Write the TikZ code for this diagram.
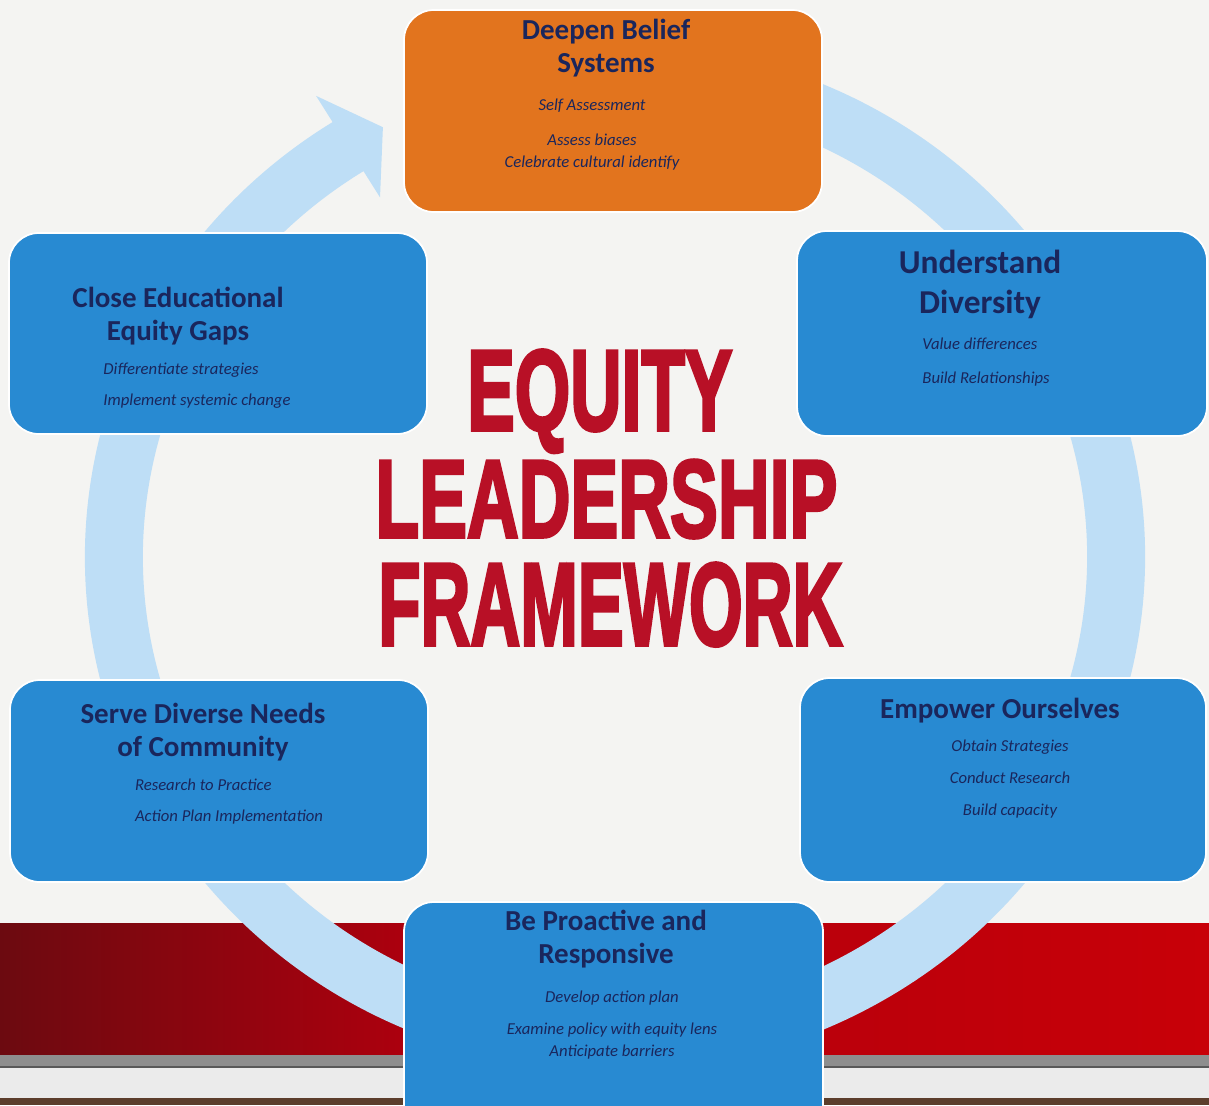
\documentclass[tikz,border=0pt]{standalone}
\usepackage{fontspec}
\usepackage{graphicx}
\setmainfont{Carlito}
\newfontfamily\heavyfont{Liberation Sans}[UprightFeatures={FakeBold=3.2}, BoldFeatures={FakeBold=3.2}]
\usetikzlibrary{positioning}

\definecolor{paper}{RGB}{244,244,242}
\definecolor{cardblue}{RGB}{40,138,210}
\definecolor{cardorange}{RGB}{226,116,30}
\definecolor{ink}{RGB}{26,38,92}
\definecolor{ringblue}{RGB}{190,222,246}
\definecolor{titlered}{RGB}{184,16,38}
\definecolor{banddark}{RGB}{108,10,16}
\definecolor{bandmid}{RGB}{172,0,14}
\definecolor{bandred}{RGB}{200,0,8}
\definecolor{stripe}{RGB}{142,142,142}
\definecolor{soil}{RGB}{92,62,44}

\tikzset{
  card/.style 2 args={draw=white, line width=1pt, fill=cardblue, rounded corners=17pt,
    minimum width=#1*0.02cm, minimum height=#2*0.02cm, inner sep=0pt},
  head/.style={text=ink, align=center, inner sep=0pt, font=\bfseries\fontsize{16.5}{18.7}\selectfont},
  item/.style={text=ink, align=center, inner sep=0pt, font=\itshape\fontsize{9.5}{12.5}\selectfont},
  big/.style={text=titlered, anchor=base west, inner sep=0pt, font=\heavyfont\bfseries},
}

\begin{document}
\begin{tikzpicture}[x=0.02cm, y=-0.02cm]
    \useasboundingbox (0,0) rectangle (1209,1105);
    \clip (0,0) rectangle (1209,1105);
    \fill[paper] (0,0) rectangle (1209,1105);

    % red band at the bottom
    \shade[left color=banddark, right color=bandmid] (0,923) rectangle (404,1055);
    \shade[left color=bandmid, right color=bandred] (404,923) rectangle (1209,1055);
    \fill[stripe] (0,1055) rectangle (1209,1068);
    \fill[black!65] (0,1066) rectangle (1209,1068);
    \fill[white!92!black] (0,1068) rectangle (1209,1098);
    \fill[soil] (0,1098) rectangle (1209,1105);

    % cycle ring with its arrow head
    \coordinate (hub) at (615,557);
    \draw[ringblue, line width=1.16cm] (hub) ++(-75:501 and 485)
        arc[start angle=-75, end angle=238.5, x radius=501, y radius=485];
    \path (hub) ++(237.8:561 and 545) coordinate (barbout)
          (hub) ++(237.8:441 and 425) coordinate (barbin)
          (hub) ++(242.4:501 and 485) coordinate (tip);
    \fill[ringblue] (barbout) -- (tip) -- (barbin) -- cycle;

    % the six cards
    \node[card={418}{202}, fill=cardorange] (deep) at (613,111) {};
    \node[card={418}{201}] (close) at (218,333.5) {};
    \node[card={410}{205}] (under) at (1002,333.5) {};
    \node[card={418}{202}] (serve) at (219,781) {};
    \node[card={406}{204}] (empower) at (1003,780) {};
    \node[card={419}{240}] (proactive) at (613.5,1022) {};

    \node[head] (deep-h) at (606,48.5) {Deepen Belief\\Systems};
    \node[item] (deep-i) at (592,134.5) {Self Assessment\\[7.3pt]Assess biases\\Celebrate cultural identify};

    \node[head] (close-h) at (178,316.5) {Close Educational\\Equity Gaps};
    \node[item, align=left] (close-i) at (197,385.5) {Differentiate strategies\\[5pt]Implement systemic change};

    \node[head, font=\bfseries\fontsize{19}{22.7}\selectfont] (under-h) at (980,284) {Understand\\Diversity};
    \node[item, align=left] (under-i) at (986,362) {Value differences\\[6.8pt]Build Relationships};

    \node[head] (serve-h) at (203,732.5) {Serve Diverse Needs\\of Community};
    \node[item, align=left] (serve-i) at (229,801.5) {Research to Practice\\[5pt]Action Plan Implementation};

    \node[head] (empower-h) at (1000,711) {Empower Ourselves};
    \node[item] (empower-i) at (1010,779) {Obtain Strategies\\[5.6pt]Conduct Research\\[5.6pt]Build capacity};

    \node[head] (proactive-h) at (606,939) {Be Proactive and\\Responsive};
    \node[item] (proactive-i) at (612,1025) {Develop action plan\\[5.6pt]Examine policy with equity lens\\Anticipate barriers};

    % title
    \node[big] (equity) at (467,430) {\resizebox{5.3cm}{1.6cm}{EQUITY}};
    \node[big] (leadership) at (375,537) {\resizebox{9.24cm}{1.54cm}{LEADERSHIP}};
    \node[big] (framework) at (378,645) {\resizebox{9.28cm}{1.64cm}{FRAMEWORK}};
\end{tikzpicture}
\end{document}
